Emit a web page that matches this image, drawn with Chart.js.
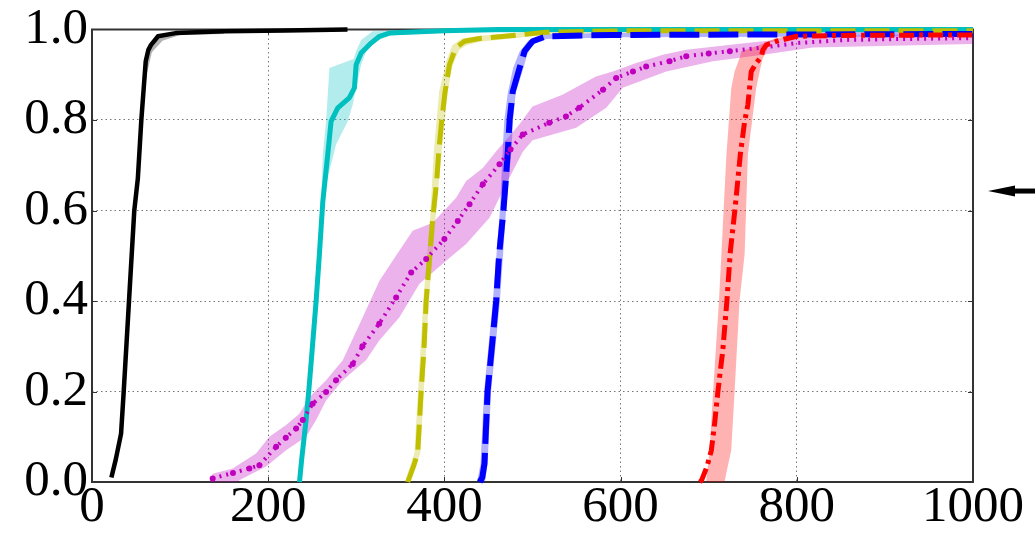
<!DOCTYPE html>
<html><head><meta charset="utf-8">
<script src="https://cdn.jsdelivr.net/npm/chart.js@4/dist/chart.umd.min.js"></script>
<style>html,body{margin:0;padding:0;background:#fff;}canvas{display:block;}</style>
</head><body>
<canvas id="c" width="1035" height="538"></canvas>
<script>
// ---- tick labels ----
const xTicks = [0, 200, 400, 600, 800, 1000];
const yTicks = [0.0, 0.2, 0.4, 0.6, 0.8, 1.0];

// ---- black series ----
const blackX = [22, 27, 33, 36, 42, 48, 52, 56, 59, 61, 64, 67, 75, 95, 150, 220, 290];
const blackY = [0.01, 0.05, 0.107, 0.2, 0.4, 0.6, 0.67, 0.8, 0.878, 0.93, 0.955, 0.966, 0.985, 0.992, 0.996, 0.998, 1.0];
const blackBandUpX = [56, 60, 64, 72, 95, 150];
const blackBandUpY = [0.8, 0.9, 0.96, 0.985, 0.995, 0.998];
const blackBandLoX = [150, 100, 80, 68, 62, 57];
const blackBandLoY = [0.99, 0.988, 0.975, 0.95, 0.9, 0.8];

// ---- cyan series ----
const cyanX = [235.5, 238, 243, 246, 249, 254.4, 258, 262, 267.6, 271.4, 279, 292, 297.9, 299.8, 305.5, 316.8, 326.3, 337.6, 400, 460, 1000];
const cyanY = [0.0, 0.05, 0.137, 0.2, 0.27, 0.4, 0.5, 0.62, 0.724, 0.797, 0.827, 0.849, 0.871, 0.922, 0.948, 0.97, 0.985, 0.992, 0.997, 1.0, 1.0];
const cyanBandUpX = [234, 240, 244, 252, 256, 260, 262, 265.7, 269.5, 290, 297, 299.8, 305.5, 318.7, 400, 1000];
const cyanBandUpY = [0.0, 0.137, 0.2, 0.4, 0.5, 0.62, 0.724, 0.797, 0.915, 0.93, 0.935, 0.952, 0.977, 0.996, 0.999, 1.0];
const cyanBandLoX = [1000, 400, 337.6, 322.5, 311.2, 305.5, 299.8, 296, 290.3, 277, 266, 263.8, 260, 256.5, 251, 248, 245, 240, 237.5];
const cyanBandLoY = [0.997, 0.993, 0.987, 0.974, 0.952, 0.922, 0.871, 0.834, 0.797, 0.746, 0.66, 0.621, 0.5, 0.4, 0.27, 0.2, 0.137, 0.05, 0.0];

// ---- yellow series ----
const yellowX = [358.4, 365, 369.7, 373.6, 377, 379.3, 383.8, 386.8, 391.3, 393.6, 397, 400.8, 405.7, 413, 422.8, 440, 485, 515, 600, 1000];
const yellowY = [0.0, 0.035, 0.064, 0.2, 0.3, 0.4, 0.511, 0.584, 0.665, 0.731, 0.8, 0.863, 0.922, 0.96, 0.974, 0.98, 0.988, 0.994, 0.997, 0.997];
const yellowBandUpX = [355, 366, 370, 376, 383.8, 388, 394, 402, 409, 420, 440, 485, 515, 600, 1000];
const yellowBandUpY = [0.0, 0.064, 0.2, 0.4, 0.584, 0.731, 0.863, 0.93, 0.965, 0.98, 0.986, 0.993, 0.998, 1.0, 1.0];
const yellowBandLoX = [1000, 600, 515, 485, 440, 425, 417, 409, 403.8, 397, 390, 382.3, 376.6, 372.7, 361.4];
const yellowBandLoY = [0.994, 0.994, 0.99, 0.982, 0.973, 0.965, 0.955, 0.92, 0.863, 0.731, 0.584, 0.4, 0.2, 0.064, 0.0];

// ---- blue series ----
const blueX = [440, 443, 445.5, 449, 454, 458.8, 462, 467, 469, 472, 474, 477.6, 485.3, 491, 500, 515.5, 591, 1000];
const blueY = [0.0, 0.01, 0.041, 0.2, 0.3, 0.4, 0.5, 0.6, 0.65, 0.731, 0.8, 0.863, 0.915, 0.952, 0.974, 0.985, 0.988, 0.99];
const blueBandUpX = [437, 441, 445, 455, 463, 466, 468, 472, 478, 485, 495, 515, 600, 1000];
const blueBandUpY = [0.0, 0.04, 0.2, 0.4, 0.6, 0.73, 0.8, 0.86, 0.915, 0.95, 0.975, 0.99, 0.993, 0.995];
const blueBandLoX = [1000, 600, 515, 500, 494, 489, 481, 478, 476, 470, 463, 453, 449, 446];
const blueBandLoY = [0.985, 0.983, 0.979, 0.967, 0.945, 0.91, 0.86, 0.8, 0.73, 0.6, 0.4, 0.2, 0.04, 0.0];

// ---- magenta series ----
const magentaX = [137, 160, 178.6, 190, 209, 220, 231.7, 239.2, 250.5, 265.7, 277, 296, 307, 326, 345.2, 362.3, 379.3, 400, 415.2, 428.5, 443.6, 462.5, 475, 489, 519, 538, 553, 580, 595, 614, 629, 655.6, 674.5, 700, 724, 761.5, 799.5, 856, 920, 1000];
const magentaY = [0.008, 0.02, 0.03, 0.037, 0.078, 0.098, 0.118, 0.137, 0.173, 0.199, 0.225, 0.261, 0.30, 0.35, 0.408, 0.463, 0.493, 0.537, 0.577, 0.614, 0.658, 0.702, 0.735, 0.768, 0.794, 0.808, 0.827, 0.867, 0.893, 0.907, 0.918, 0.93, 0.941, 0.947, 0.952, 0.96, 0.97, 0.977, 0.979, 0.981];
const magentaBandUpX = [133, 137, 159.7, 186.2, 201.3, 220.3, 235.4, 246.8, 265.7, 284.6, 307.3, 326.3, 345, 364, 386.8, 413.3, 424.7, 443.6, 458.8, 485, 500, 534, 572, 591, 617.8, 648, 674.5, 742.7, 818, 1000];
const magentaBandUpY = [0.0, 0.018, 0.03, 0.063, 0.1, 0.126, 0.151, 0.188, 0.225, 0.269, 0.364, 0.445, 0.5, 0.555, 0.573, 0.628, 0.665, 0.694, 0.731, 0.79, 0.83, 0.856, 0.896, 0.907, 0.926, 0.944, 0.955, 0.97, 0.985, 0.992];
const magentaBandLoX = [1000, 818, 761.5, 704.8, 651.8, 602.5, 583.7, 549.6, 500, 489, 470, 451.2, 424.7, 402, 371.7, 349, 326.3, 311, 284.6, 265.7, 254.4, 243, 220.3, 197.6, 167.3, 165];
const magentaBandLoY = [0.968, 0.96, 0.944, 0.93, 0.907, 0.871, 0.827, 0.783, 0.755, 0.73, 0.658, 0.584, 0.526, 0.489, 0.438, 0.364, 0.313, 0.269, 0.225, 0.18, 0.137, 0.1, 0.07, 0.034, 0.004, 0.0];

// ---- red series ----
const redX = [690, 692, 698, 703, 706.7, 710.4, 716, 720.7, 724.5, 730, 735.9, 740.8, 744.5, 746.4, 748.3, 754, 759.7, 761.5, 765.4, 780.5, 800, 850, 1000];
const redY = [0.0, 0.004, 0.034, 0.07, 0.129, 0.199, 0.291, 0.401, 0.508, 0.606, 0.724, 0.797, 0.834, 0.871, 0.907, 0.926, 0.94, 0.955, 0.966, 0.976, 0.985, 0.987, 0.988];
const redBandUpX = [697, 701, 705, 711.6, 714.3, 720, 725.6, 729.4, 735, 737, 757.8, 775, 800];
const redBandUpY = [0.0, 0.07, 0.2, 0.4, 0.5, 0.72, 0.87, 0.907, 0.937, 0.952, 0.966, 0.98, 0.99];
const redBandLoX = [800, 770, 765.4, 761.5, 757.8, 754, 744.5, 740.8, 735, 729.4, 725.6, 720, 718];
const redBandLoY = [0.985, 0.972, 0.952, 0.937, 0.907, 0.871, 0.724, 0.504, 0.4, 0.2, 0.07, 0.02, 0.0];

const pts = (xs, ys) => xs.map((x, i) => ({x: x, y: ys[i]}));
const poly = (ux, uy, lx, ly) => pts(ux, uy).concat(pts(lx, ly));

function bandDS(data, color, order) {
  return {data, borderWidth: 0, borderColor: 'rgba(0,0,0,0)', backgroundColor: color,
          pointRadius: 0, fill: 'shape', order, clip: false, tension: 0};
}
function lineDS(data, color, width, dash, order, extra) {
  return Object.assign({data, borderColor: color, backgroundColor: color, borderWidth: width,
          borderDash: dash, borderCapStyle: 'butt', borderJoinStyle: 'round', pointRadius: 0,
          fill: false, order, clip: false, tension: 0}, extra || {});
}

const datasets = [
  bandDS(poly(blackBandUpX, blackBandUpY, blackBandLoX, blackBandLoY), 'rgba(0,0,0,0.3)', 20),
  bandDS(poly(cyanBandUpX, cyanBandUpY, cyanBandLoX, cyanBandLoY), 'rgba(0,191,191,0.3)', 19),
  bandDS(poly(yellowBandUpX, yellowBandUpY, yellowBandLoX, yellowBandLoY), 'rgba(191,191,0,0.3)', 18),
  bandDS(poly(blueBandUpX, blueBandUpY, blueBandLoX, blueBandLoY), 'rgba(0,0,255,0.3)', 17),
  bandDS(poly(magentaBandUpX, magentaBandUpY, magentaBandLoX, magentaBandLoY), 'rgba(191,0,191,0.3)', 16),
  bandDS(poly(redBandUpX, redBandUpY, redBandLoX, redBandLoY), 'rgba(255,0,0,0.3)', 15),
  lineDS(pts(blackX, blackY), '#000000', 4.5, [], 6),
  lineDS(pts(cyanX, cyanY), '#00BFBF', 5, [], 5),
  lineDS(pts(yellowX, yellowY), '#BFBF00', 5, [25, 9], 4),
  lineDS(pts(blueX, blueY), '#0000FF', 6, [30, 9], 3),
  lineDS(pts(magentaX, magentaY), '#BF00BF', 4, [2, 5], 2, {
    pointRadius: c => (c.raw && c.raw.x <= 725 ? 3 : 0),
    pointBorderWidth: 0, pointBackgroundColor: '#BF00BF'}),
  lineDS(pts(redX, redY), '#FF0000', 5, [15, 5, 4, 5], 1)
];

const framePlugin = {
  id: 'frame',
  beforeDatasetsDraw(chart) {
    const {ctx, chartArea: a, scales} = chart;
    ctx.save();
    ctx.strokeStyle = '#333';
    ctx.lineWidth = 1;
    const tl = 5;
    ctx.beginPath();
    xTicks.slice(1, -1).forEach(v => {
      const px = Math.round(scales.x.getPixelForValue(v)) + 0.5;
      ctx.moveTo(px, a.bottom); ctx.lineTo(px, a.bottom - tl);
      ctx.moveTo(px, a.top); ctx.lineTo(px, a.top + tl);
    });
    yTicks.slice(1, -1).forEach(v => {
      const py = Math.round(scales.y.getPixelForValue(v)) + 0.5;
      ctx.moveTo(a.left, py); ctx.lineTo(a.left + tl, py);
      ctx.moveTo(a.right, py); ctx.lineTo(a.right - tl, py);
    });
    ctx.stroke();
    ctx.lineWidth = 2;
    ctx.strokeRect(a.left, a.top, a.right - a.left, a.bottom - a.top);
    ctx.restore();
  },
  afterDraw(chart) {
    const {ctx, chartArea: a, scales} = chart;
    const y = scales.y.getPixelForValue(0.643);
    const tip = a.right + 15;
    ctx.save();
    ctx.fillStyle = '#000';
    ctx.beginPath();
    ctx.moveTo(tip, y);
    ctx.lineTo(tip + 27, y - 5.5);
    ctx.lineTo(tip + 27, y + 5.5);
    ctx.closePath();
    ctx.fill();
    ctx.fillRect(tip + 24, y - 2.5, chart.width - tip - 24, 5);
    ctx.restore();
  }
};

const tickFont = {family: "'Liberation Serif', 'Times New Roman', serif", size: 51, lineHeight: 1};

new Chart(document.getElementById('c'), {
  type: 'line',
  data: {datasets},
  plugins: [framePlugin],
  options: {
    responsive: false,
    animation: false,
    devicePixelRatio: 1,
    layout: {padding: {top: 28, right: 62, left: 0, bottom: 0}},
    plugins: {legend: {display: false}, tooltip: {enabled: false}},
    scales: {
      x: {
        type: 'linear', min: 0, max: 1000,
        afterBuildTicks: s => { s.ticks = xTicks.map(v => ({value: v})); },
        afterFit: s => { s.height = 56; },
        ticks: {color: '#000', font: tickFont, padding: 0, maxRotation: 0, autoSkip: false,
                callback: v => String(v)},
        grid: {drawTicks: false, lineWidth: 1,
               color: c => (c.tick && (c.tick.value <= 0 || c.tick.value >= 1000)) ? 'rgba(0,0,0,0)' : '#777'},
        border: {display: false, dash: [1.5, 3]}
      },
      y: {
        type: 'linear', min: 0, max: 1,
        afterBuildTicks: s => { s.ticks = yTicks.map(v => ({value: v})); },
        afterFit: s => { s.width = 92; },
        ticks: {color: '#000', font: tickFont, padding: 4, autoSkip: false,
                callback: v => Number(v).toFixed(1)},
        grid: {drawTicks: false, lineWidth: 1,
               color: c => (c.tick && (c.tick.value <= 0 || c.tick.value >= 1)) ? 'rgba(0,0,0,0)' : '#777'},
        border: {display: false, dash: [1.5, 3]}
      }
    }
  }
});
</script>
</body></html>
